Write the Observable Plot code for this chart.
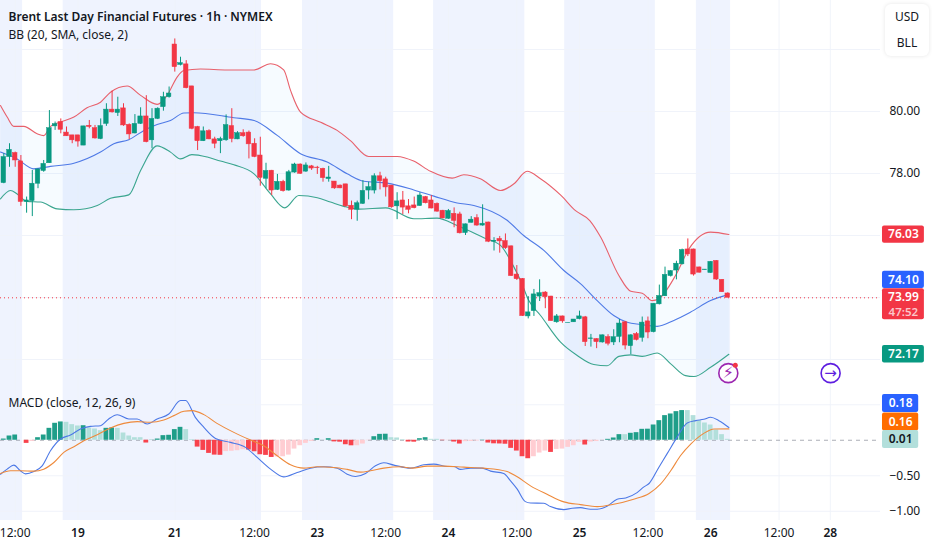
<!DOCTYPE html>
<html><head><meta charset="utf-8">
<script src="https://cdn.jsdelivr.net/npm/d3@7"></script>
<script src="https://cdn.jsdelivr.net/npm/@observablehq/plot@0.6"></script>
<style>
html,body{margin:0;padding:0;background:#fff;overflow:hidden;width:932px;height:550px;position:relative}
svg{display:block}
#units{position:absolute;left:885px;top:4px;width:44px;height:52px;background:#fff;border-radius:6px;box-shadow:0 0 4px rgba(0,0,0,.1);font:12px "Noto Sans",sans-serif;color:#131722;text-align:center;line-height:26px}
</style></head><body>
<div id="chart"></div>
<div id="units"><div>USD</div><div>BLL</div></div>
<script>
const title = "Brent Last Day Financial Futures · 1h · NYMEX";
const bbLabel = "BB (20, SMA, close, 2)";
const macdLabel = "MACD (close, 12, 26, 9)";

const candleOpen = [77.69,78.53,78.66,78.39,77.08,77.11,77.67,78.08,78.33,79.52,
79.66,79.32,79.23,79.23,78.90,79.54,79.46,79.11,79.60,80.06,
79.95,80.10,79.57,79.29,79.60,79.84,79.07,79.76,80.14,80.46,
82.16,81.50,81.52,80.81,79.50,79.04,79.37,79.10,79.04,79.07,
79.53,79.10,79.30,79.32,78.96,78.58,77.83,78.09,77.47,77.73,
77.45,78.03,78.29,78.06,78.23,78.19,78.15,77.82,77.74,77.61,
77.65,76.96,76.83,77.02,77.45,77.45,77.91,77.81,77.61,76.94,
77.13,76.94,76.97,76.95,77.24,77.13,77.02,76.80,76.54,76.70,
76.68,76.08,76.41,76.56,76.32,76.42,75.80,75.89,75.82,75.65,
74.74,74.60,73.39,73.56,74.03,74.16,74.03,73.20,73.39,73.17,
73.20,73.30,73.36,72.66,72.66,72.55,72.72,72.55,72.73,73.20,
72.43,72.82,72.70,73.23,72.88,73.78,74.04,74.69,74.87,75.07,
75.55,75.55,74.97,74.88,74.79,75.18,74.57,74.13];
const candleHigh = [78.64,78.96,78.69,78.58,77.24,78.10,78.15,78.42,80.03,79.66,
79.76,79.50,79.23,79.23,79.52,79.71,79.55,79.76,80.25,80.66,
80.46,80.25,79.60,79.90,80.12,80.51,80.09,80.12,80.62,80.79,
82.34,81.75,81.64,80.81,79.52,79.50,79.41,79.17,79.17,79.89,
80.09,79.35,79.41,79.37,79.12,79.17,78.33,78.10,77.97,77.78,
78.10,78.33,78.31,78.34,78.26,78.23,78.17,78.23,77.74,77.63,
77.65,77.11,77.11,77.77,77.72,77.99,78.04,77.88,77.61,77.38,
77.42,77.16,77.24,77.38,77.26,77.29,77.05,76.81,76.84,76.89,
76.75,76.37,76.61,76.67,76.99,76.43,75.93,75.97,76.05,75.66,
75.03,74.61,74.03,74.26,74.57,74.19,74.04,73.45,73.40,73.18,
73.29,73.56,73.39,72.81,72.67,72.79,72.80,72.96,73.29,73.23,
72.80,72.87,73.37,73.37,73.80,74.40,74.98,74.87,75.17,75.56,
75.89,75.56,74.98,74.90,75.16,75.19,74.58,74.15];
const candleLow = [77.67,78.20,78.20,76.94,76.72,76.61,77.51,78.04,78.33,79.39,
79.28,79.20,78.96,78.85,78.90,79.44,79.11,79.09,79.52,79.95,
79.84,79.52,79.09,79.28,79.58,78.99,78.80,79.74,80.01,80.43,
81.27,81.47,80.73,79.41,78.74,79.03,79.09,78.80,78.64,79.04,
78.99,79.09,79.17,78.47,78.51,77.59,77.51,77.29,77.45,77.40,
77.43,78.01,77.97,78.04,78.10,77.97,77.72,77.72,77.49,77.51,
76.91,76.51,76.46,77.00,77.15,77.34,77.47,77.24,76.88,76.51,
76.67,76.70,76.86,76.94,77.02,76.86,76.75,76.54,76.52,76.25,
76.05,76.00,76.40,76.30,76.30,75.77,75.50,75.43,75.55,74.68,
74.55,73.39,73.31,73.39,73.87,73.64,73.23,73.17,73.17,73.17,
73.20,73.28,72.42,72.40,72.35,72.53,72.44,72.45,72.54,72.31,
72.16,72.60,72.56,72.67,72.86,73.76,74.03,74.66,74.57,75.05,
75.32,74.69,74.79,74.88,74.78,74.55,74.16,74.00];
const candleClose = [78.53,78.76,78.42,77.08,77.13,77.67,78.13,78.31,79.46,79.59,
79.41,79.20,79.07,79.03,79.52,79.50,79.13,79.53,80.06,79.97,
80.06,79.55,79.26,79.60,79.84,79.01,79.76,80.09,80.46,80.58,
81.43,81.56,80.75,79.44,79.04,79.36,79.10,78.96,79.11,79.56,
79.11,79.30,79.20,78.94,78.53,77.86,78.08,77.45,77.73,77.43,
78.04,78.29,77.99,78.26,78.16,78.17,77.85,77.87,77.52,77.52,
76.94,76.83,77.04,77.44,77.56,77.91,77.75,77.55,76.91,77.10,
76.90,76.83,76.88,77.29,77.04,76.87,76.77,76.55,76.79,76.47,
76.07,76.36,76.51,76.32,76.38,75.80,75.83,75.81,75.59,74.69,
74.59,73.40,73.52,74.10,74.14,74.01,73.24,73.39,73.23,73.18,
73.29,73.39,72.56,72.68,72.56,72.78,72.51,72.72,73.16,72.45,
72.78,72.63,73.19,72.87,73.80,74.05,74.73,74.85,75.09,75.53,
75.39,74.74,74.80,74.90,75.15,74.58,74.17,73.99];

const upperBar = [-0.58,0.59,1.76,3.5,5.85,7,8.19,9.95,12.3,14.6,16.97,18.72,21.64,24,26.9,28.66,30.4,31.6,34.5,39.2,43.9,46.8,49.1,50.3,52.05,55.6,58.48,60.8,64,69,71.9,74.86,78.66,80.7,83.6,87.14,89.5,91.8,94.15,97.7,100.3,102.8,104.7,107.9,110,112,113.75,114.9,117.84,120.2,124,127.2];
const upperVal = [80.19,79.82,79.52,79.52,79.28,79.22,79.52,79.66,79.82,80.12,80.30,80.62,80.82,80.52,80.23,80.52,81.11,81.32,81.37,81.34,81.34,81.54,81.34,80.68,79.98,79.65,79.39,79.06,78.55,78.55,78.40,78.07,77.85,77.96,77.83,77.45,77.67,78.07,77.83,77.3,76.8,76.48,75.95,74.71,74.2,74.14,73.9,73.96,74.71,75.57,76.11,76.03];
const middleBar = [-0.58,2.34,5.27,8.19,12.3,16.97,19.3,21.93,24.6,26.9,29.24,31.6,33.34,40.36,43.9,47.96,52.05,56.73,60.24,63.16,67.25,71.93,75.44,79.53,82.46,88.3,91.2,94.74,98.25,101.2,104.1,107,109.36,111.7,114.63,117.55,120.5,124,127.2];
const middleVal = [78.69,78.47,78.15,78.23,78.33,78.69,78.96,79.09,79.39,79.58,79.71,79.95,79.96,79.80,79.71,79.23,78.64,78.37,77.99,77.75,77.69,77.47,77.27,77.05,76.97,76.49,76.0,75.52,74.87,74.44,73.9,73.42,73.2,73.13,73.07,73.26,73.53,73.9,74.10];
const lowerBar = [-0.58,1.17,2.34,4.1,6.44,9.36,12.3,16.4,18.72,21.93,24,26.9,29.24,31,33,35.7,38,40.36,43.9,46.8,49.3,51.76,55,57.3,59.65,62.3,67,71.93,76,79.53,84.2,87.14,89.5,90.65,92.1,94.16,97.67,100.6,103.5,105.85,107.9,110,112,114.63,117,119.6,121.06,124,127.2];
const lowerVal = [77.18,77.45,77.34,77.1,77.08,76.86,76.83,76.97,77.2,77.31,78.1,78.89,78.69,78.47,78.61,78.53,78.4,78.28,77.99,77.34,76.89,77.29,77.22,77.08,76.94,76.85,76.89,76.54,76.56,76.32,75.93,75.68,74.98,74.55,73.9,73.42,72.56,72.13,71.84,71.8,72.1,72.15,72.1,72.21,71.86,71.48,71.45,71.75,72.17];

const histogram = [.017,.06,.074,0,-.044,-.016,.036,.074,.168,.239,
.258,.253,.22,.201,.205,.173,.159,.135,.168,.173,
.168,.102,.06,.036,.036,-.039,.003,.017,.065,.07,
.15,.182,.15,.008,-.096,-.143,-.185,-.209,-.212,-.16,
-.155,-.147,-.133,-.138,-.162,-.204,-.213,-.242,-.235,-.232,
-.209,-.124,-.077,-.044,-.016,.022,.003,.022,-.023,-.027,
-.063,-.078,-.077,-.053,-.006,.05,.083,.085,.036,.032,
.008,-.025,-.027,.022,.036,.013,.013,-.006,-.006,-.025,
-.053,-.02,-.016,-.011,.003,-.039,-.05,-.052,-.056,-.114,
-.152,-.232,-.26,-.232,-.18,-.152,-.171,-.129,-.124,-.1,
-.077,-.03,-.067,-.025,-.018,-.002,.013,.032,.079,.079,
.098,.107,.154,.156,.215,.276,.347,.37,.403,.418,
.418,.347,.276,.243,.215,.144,.079,.013];

const macdBar = [-0.58,0.59,1.76,2.93,3.8,5.27,6.73,8.19,9.95,11.7,13.45,15.2,16.97,18.4,19.9,21.93,23.4,25.15,26.9,28.95,31,31.9,33.6,35.1,37.14,39.77,42.4,44.45,46.8,49.1,51.47,53.8,56.15,58.5,60.24,61.7,63.46,65.2,66.67,68.43,71.35,73.7,75.45,77.8,78.95,80.1,81.9,83.9,85.4,87.7,88.9,90.07,91.5,92.4,94.75,95.9,98.25,99.7,101.18,102.9,104.1,105.9,107.6,109.1,111.1,112.3,113.2,114.9,116.4,118.1,119.9,121.4,122.8,124,125.45,127.2];
const macdVal = [-.478,-.407,-.35,-.43,-.473,-.44,-.36,-.148,.017,.074,.158,.196,.205,.30,.36,.30,.30,.229,.30,.37,.559,.559,.323,.182,.026,-.03,-.10,-.242,-.407,-.515,-.454,-.393,-.374,-.393,-.478,-.51,-.468,-.36,-.317,-.35,-.393,-.346,-.336,-.37,-.37,-.41,-.393,-.393,-.435,-.468,-.572,-.689,-.864,-.883,-.887,-.934,-.977,-.958,-.949,-.972,-.972,-.925,-.83,-.812,-.737,-.656,-.609,-.383,-.185,.041,.243,.276,.295,.323,.276,.18];
const signalBar = [-0.58,1.17,2.93,5.27,7,8.78,10.53,12.3,14.04,16.4,18.7,21.06,23.4,25.74,28.07,29.83,31.6,33.05,35.1,37.4,40.36,43.28,45.6,47.96,50.3,52.64,55,57.9,60.24,62.6,64.34,66.67,69.6,71.65,74.3,77.2,80.7,84.2,88.3,90.07,92.4,95.3,98.25,101.18,104.1,107,110.5,113.2,115.2,117,118.7,120.5,122.8,124.6,127.2];
const signalVal = [-.468,-.43,-.43,-.435,-.407,-.313,-.171,-.091,-.007,.078,.172,.238,.262,.253,.286,.347,.408,.417,.361,.238,.111,.003,-.077,-.218,-.346,-.393,-.374,-.383,-.41,-.449,-.43,-.393,-.374,-.393,-.364,-.364,-.379,-.393,-.44,-.515,-.642,-.76,-.868,-.906,-.934,-.901,-.83,-.75,-.619,-.43,-.218,-.054,.097,.158,.16];

const hourTicks = [2,44,67,90,113,136];
const dayTicks = [13,30,55,78,101,124,145];
const dayNames = ["19","21","23","24","25","26","28"];
const sessionStart = [-0.58,10.42,52.4,75.4,98.4,121.5];
const sessionEnd = [3.3,45.2,68.4,91.4,114.3,127.5];
const priceTicks = [82,80,78,76,74,72];
const macdTicks = [0.5,-0.5,-1];
const macdAxisTicks = [-0.5,-1];

const bars = candleOpen.map((o,i)=>({i,o,h:candleHigh[i],l:candleLow[i],c:candleClose[i],up:candleClose[i]>=o}));
const zip = (xs,ys)=>xs.map((x,k)=>({x,y:ys[k]}));
const hist = histogram.map((v,i)=>({i,v,color:
  v>=0 ? (i===0||v>histogram[i-1] ? "#1f9e89":"#b2dfdb") : (v<histogram[i-1] ? "#f8424c":"#ffcdd2")}));
const sessions = sessionStart.map((a,k)=>({a,b:sessionEnd[k]}));
const FONT = '"Noto Sans", sans-serif';
const RED="#f23645", GREEN="#089981", BLUE="#2962ff", ORANGE="#ff6d00", GRID="#f0f3fa", INK="#131722";
const xOpts = {domain:[-0.579,153.8], range:[0,880], axis:null};
const allTicks = hourTicks.concat(dayTicks);
const tagL=154.15;

function tag(value,label,fill,half,right,opts={}){
  const dy=opts.dy||0;
  return [
    Plot.rect([value],{x1:()=>tagL,x2:()=>right,y1:d=>d+(opts.up??half),y2:d=>d-(opts.down??half),fill,rx:2,dy}),
    Plot.text([value],{x:()=>(tagL+right)/2,y:d=>d,text:()=>label,fill:opts.ink||"#fff",fontWeight:600,fontSize:12,dy:dy+(opts.textDy||0)})
  ];
}

const pricePlot = Plot.plot({
  width:932,height:387,marginLeft:0,marginRight:52,marginTop:0,marginBottom:0,
  style:{fontFamily:FONT,fontSize:"12px",color:INK,background:"transparent"},
  x:xOpts,
  y:{domain:[71.097,83.58],range:[387,0],axis:null},
  marks:[
    Plot.rect(sessions,{x1:"a",x2:"b",fill:"#eff3fe"}),
    Plot.ruleY(priceTicks,{stroke:GRID}),
    Plot.ruleX(allTicks,{stroke:GRID,strokeOpacity:.9}),
    Plot.line(zip(upperBar,upperVal).concat(zip(lowerBar,lowerVal).reverse()),{x:"x",y:"y",fill:"#2196f3",fillOpacity:.04,stroke:"none"}),
    Plot.line(zip(upperBar,upperVal),{x:"x",y:"y",stroke:"#e8606b",strokeWidth:1.1,curve:"monotone-x"}),
    Plot.line(zip(middleBar,middleVal),{x:"x",y:"y",stroke:"#4f7ae6",strokeWidth:1.1,curve:"monotone-x"}),
    Plot.line(zip(lowerBar,lowerVal),{x:"x",y:"y",stroke:"#3aa58f",strokeWidth:1.1,curve:"monotone-x"}),
    Plot.ruleY([73.99],{stroke:RED,strokeWidth:1,strokeDasharray:"1 3"}),
    Plot.ruleX(bars,{x:"i",y1:"l",y2:"h",stroke:d=>d.up?GREEN:RED,strokeWidth:1}),
    Plot.rect(bars,{x1:d=>d.i-.4,x2:d=>d.i+.4,y1:"o",y2:"c",fill:d=>d.up?GREEN:RED,stroke:d=>d.up?GREEN:RED,strokeWidth:.5}),
    Plot.axisY(priceTicks.slice(1,3),{anchor:"right",tickSize:0,tickPadding:9,tickFormat:d3.format(".2f"),label:null,fontSize:12}),
    ...tag(76.03,"76.03",RED,.28,161.5),
    ...tag(74.10,"74.10",BLUE,.28,161.5,{dy:-14.5}),
    ...tag(73.99,"73.99",RED,.28,161.5,{up:.29,down:.71,textDy:-1}),
    Plot.text([73.99],{x:()=>157.8,y:d=>d,text:()=>"47:52",fill:"#fff",fillOpacity:.72,fontWeight:600,fontSize:11.5,dy:14.5}),
    ...tag(72.17,"72.17",GREEN,.28,161.5),
    Plot.dot([{x:127.1,y:71.56}],{x:"x",y:"y",r:9.5,stroke:"#9c27b0",strokeWidth:1.6,fill:"#fff"}),
    Plot.text([{x:127.1,y:71.56}],{x:"x",y:"y",text:()=>"⚡",fill:"#9c27b0",fontSize:16,fontFamily:"DejaVu Sans"}),
    Plot.dot([{x:127.1,y:71.56}],{x:"x",y:"y",r:2.5,fill:RED,dx:7,dy:-8}),
    Plot.dot([{x:145.05,y:71.56}],{x:"x",y:"y",r:9.5,stroke:"#5e1ee0",strokeWidth:1.6,fill:"#fff"}),
    Plot.text([{x:145.05,y:71.56}],{x:"x",y:"y",text:()=>"→",fill:"#5e1ee0",fontSize:15,fontFamily:"DejaVu Sans"}),
    Plot.text([title],{frameAnchor:"top-left",dx:8,dy:17,textAnchor:"start",lineAnchor:"middle",fontWeight:600,fontSize:12,fill:INK}),
    Plot.text([bbLabel],{frameAnchor:"top-left",dx:8,dy:35,textAnchor:"start",lineAnchor:"middle",fontSize:12,fill:INK})
  ]
});

const macdPlot = Plot.plot({
  width:932,height:163,marginLeft:0,marginRight:52,marginTop:0,marginBottom:30,
  style:{fontFamily:FONT,fontSize:"12px",color:INK,background:"transparent"},
  x:xOpts,
  y:{domain:[-1.13,.743],range:[133,0],axis:null},
  color:{type:"identity"},
  marks:[
    Plot.rect(sessions,{x1:"a",x2:"b",fill:"#eff3fe"}),
    Plot.ruleY(macdTicks,{stroke:GRID}),
    Plot.ruleX(allTicks,{stroke:GRID,strokeOpacity:.9}),
    Plot.ruleY([0],{stroke:"#888b96",strokeDasharray:"4 4",strokeOpacity:.7}),
    Plot.rect(hist,{x1:d=>d.i-.42,x2:d=>d.i+.42,y1:()=>0,y2:"v",fill:"color"}),
    Plot.line(zip(macdBar,macdVal),{x:"x",y:"y",stroke:"#4c78e6",strokeWidth:1.1,curve:"monotone-x"}),
    Plot.line(zip(signalBar,signalVal),{x:"x",y:"y",stroke:"#ee8a3c",strokeWidth:1.1,curve:"monotone-x"}),
    Plot.axisY(macdAxisTicks,{anchor:"right",tickSize:0,tickPadding:9,tickFormat:d3.format(".2f"),label:null,fontSize:12}),
    Plot.axisX(hourTicks,{anchor:"bottom",tickSize:0,tickPadding:8,tickFormat:()=>"12:00",label:null,fontSize:12}),
    Plot.axisX(dayTicks,{anchor:"bottom",tickSize:0,tickPadding:8,tickFormat:(d)=>dayNames[dayTicks.indexOf(d)],label:null,fontSize:12,fontWeight:600}),
    ...tag(0.18,"0.18",BLUE,.127,160.5,{dy:-24}),
    ...tag(0.16,"0.16",ORANGE,.127,160.5,{dy:-7}),
    ...tag(0.01,"0.01","#b2dfdb",.127,160.5,{ink:INK}),
    Plot.text([macdLabel],{frameAnchor:"top-left",dx:8,dy:16,textAnchor:"start",lineAnchor:"middle",fontSize:12,fill:INK})
  ]
});
document.getElementById("chart").append(pricePlot,macdPlot);
</script>
</body></html>
